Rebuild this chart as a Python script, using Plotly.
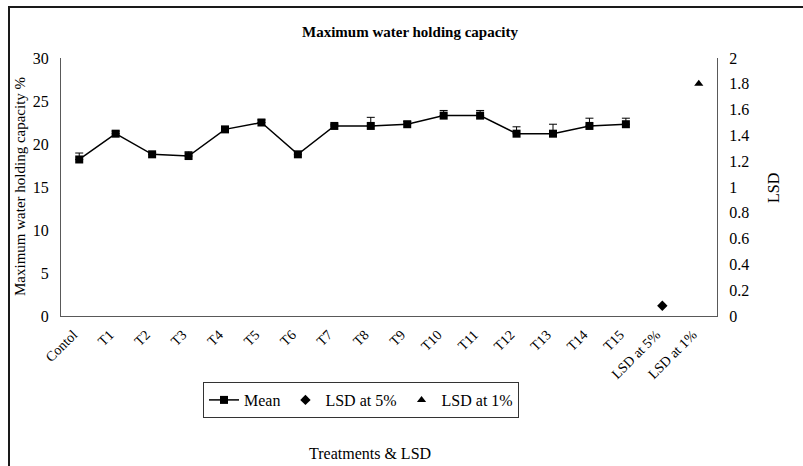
import plotly.graph_objects as go

categories = ["Contol", "T1", "T2", "T3", "T4", "T5", "T6", "T7", "T8", "T9",
              "T10", "T11", "T12", "T13", "T14", "T15", "LSD at 5%", "LSD at 1%"]
treatments = categories[:16]
mean_values = [18.2, 21.2, 18.8, 18.6, 21.7, 22.5, 18.8, 22.1, 22.1, 22.3,
               23.3, 23.3, 21.2, 21.2, 22.1, 22.3]
mean_errors = [0.75, 0.3, 0.2, 0.5, 0.25, 0.3, 0.3, 0.2, 1.0, 0.3,
               0.6, 0.6, 0.8, 1.1, 0.9, 0.7]
lsd5_value = [0.08]
lsd1_value = [1.80]
left_ticks = [0, 5, 10, 15, 20, 25, 30]
right_ticks = [0, 0.2, 0.4, 0.6, 0.8, 1, 1.2, 1.4, 1.6, 1.8, 2]

FONT = "Liberation Serif"

fig = go.Figure()
fig.add_trace(go.Scatter(
    x=treatments, y=mean_values, name="Mean", mode="lines+markers",
    line=dict(color="black", width=1.5),
    marker=dict(symbol="square", size=8, color="black"),
    error_y=dict(type="data", array=mean_errors, symmetric=False,
                 arrayminus=[0] * len(mean_errors),
                 color="black", thickness=1, width=4),
))
fig.add_trace(go.Scatter(
    x=["LSD at 5%"], y=lsd5_value, name="LSD at 5%", mode="markers",
    marker=dict(symbol="diamond", size=8, color="black"), yaxis="y2",
))
fig.add_trace(go.Scatter(
    x=["LSD at 1%"], y=lsd1_value, name="LSD at 1%", mode="markers",
    marker=dict(symbol="triangle-up", size=8, color="black"), yaxis="y2",
))

def px_x(p):
    return (p - 61) / 656

def px_y(p):
    return (316 - p) / 258

frame_line = dict(color="#1a1a1a", width=2)

fig.update_layout(
    width=803, height=466,
    margin=dict(l=61, r=86, t=58, b=150, autoexpand=False),
    paper_bgcolor="white", plot_bgcolor="white",
    font=dict(family=FONT, color="black", size=14),
    showlegend=True,
    legend=dict(orientation="h", x=px_x(361), y=px_y(400), xanchor="center", yanchor="middle",
                bordercolor="#333", borderwidth=1,
                font=dict(family=FONT, size=16),
                itemwidth=30, tracegroupgap=0),
    xaxis=dict(type="category", categoryorder="array", categoryarray=categories,
               range=[-0.5, 17.5], tickangle=-45, showgrid=False, automargin=False,
               showline=True, linecolor="#595959", linewidth=1,
               ticks="outside", ticklen=4, tickcolor="white", ticklabelshift=-6,
               tickfont=dict(family=FONT, size=14), zeroline=False),
    yaxis=dict(range=[0, 30], tickvals=left_ticks, showgrid=False, automargin=False,
               showline=True, linecolor="#595959", linewidth=1,
               ticks="outside", ticklen=8, tickcolor="white", zeroline=False,
               tickfont=dict(family=FONT, size=16)),
    yaxis2=dict(range=[0, 2], tickvals=right_ticks, overlaying="y", side="right",
                showgrid=False, showline=True, linecolor="#595959", linewidth=1,
                automargin=False,
                ticks="outside", ticklen=8, tickcolor="white", zeroline=False,
                tickfont=dict(family=FONT, size=16)),
    shapes=[
        dict(type="line", xref="paper", yref="paper",
             x0=px_x(8), x1=px_x(810), y0=px_y(7), y1=px_y(7), line=frame_line),
        dict(type="line", xref="paper", yref="paper",
             x0=px_x(9), x1=px_x(9), y0=px_y(6), y1=px_y(470), line=frame_line),
    ],
    annotations=[
        dict(text="<b>Maximum water holding capacity</b>", xref="paper", yref="paper",
             x=px_x(410), y=px_y(32), xanchor="center", yanchor="middle",
             showarrow=False, font=dict(family=FONT, size=15)),
        dict(text="Maximum water holding capacity %", xref="paper", yref="paper",
             x=px_x(20), y=px_y(187), xanchor="center", yanchor="middle",
             textangle=-90, showarrow=False, font=dict(family=FONT, size=15)),
        dict(text="LSD", xref="paper", yref="paper",
             x=px_x(773), y=px_y(188), xanchor="center", yanchor="middle",
             textangle=-90, showarrow=False, font=dict(family=FONT, size=16)),
        dict(text="Treatments & LSD", xref="paper", yref="paper",
             x=px_x(370), y=px_y(453), xanchor="center", yanchor="middle",
             showarrow=False, font=dict(family=FONT, size=16)),
    ],
)

fig.write_html("out.html", config={"displayModeBar": False},
               post_script="document.body.style.margin='0';document.body.style.padding='0';")
